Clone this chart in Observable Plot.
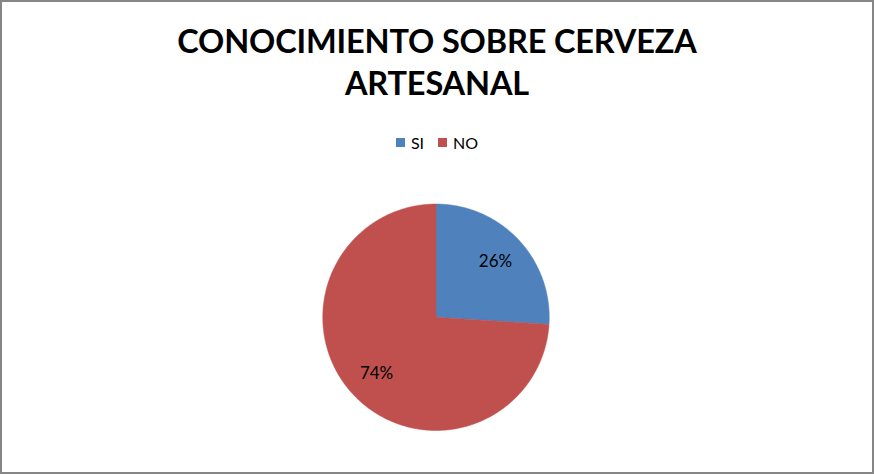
<!DOCTYPE html>
<html>
<head>
<meta charset="utf-8">
<script src="https://cdn.jsdelivr.net/npm/d3@7"></script>
<script src="https://cdn.jsdelivr.net/npm/@observablehq/plot@0.6"></script>
<style>
  html, body { margin: 0; padding: 0; background: #fff; }
  #frame { position: relative; width: 874px; height: 474px; box-sizing: border-box; border: 2px solid #868686; overflow: hidden; font-family: Lato, "Open Sans", sans-serif; }
  #title { position: absolute; left: 0; top: 18px; width: 870px; text-align: center; font-weight: bold; font-size: 32.5px; line-height: 42px; color: #000; letter-spacing: -0.15px; }
  #legend { position: absolute; left: 0; top: 131px; width: 870px; display: flex; justify-content: center; gap: 14px; font-size: 16px; color: #000; }
  #legend .item { display: flex; align-items: center; gap: 6px; }
  #legend .sw { width: 9px; height: 9px; display: inline-block; }
  #chart { position: absolute; left: -2px; top: -2px; }
</style>
</head>
<body>
<div id="frame">
  <div id="title">CONOCIMIENTO SOBRE CERVEZA<br>ARTESANAL</div>
  <div id="legend"></div>
  <div id="chart"></div>
</div>
<script>
const categories = ["SI", "NO"];
const values = [26, 74];
const colors = ["#4F81BD", "#C0504D"];
const labels = ["26%", "74%"];

// legend
const legend = document.getElementById("legend");
categories.forEach((c, i) => {
  const it = document.createElement("div");
  it.className = "item";
  it.innerHTML = `<span class="sw" style="background:${colors[i]}"></span><span>${c}</span>`;
  legend.appendChild(it);
});

const arcs = d3.pie().sort(null).value(d => d.value)(categories.map((c, i) => ({category: c, value: values[i], label: labels[i]})));

const points = [];
arcs.forEach(a => {
  points.push({category: a.data.category, x: 0, y: 0});
  const n = Math.max(2, Math.ceil((a.endAngle - a.startAngle) / 0.01));
  for (let k = 0; k <= n; k++) {
    const t = a.startAngle + (a.endAngle - a.startAngle) * k / n;
    points.push({category: a.data.category, x: Math.sin(t), y: Math.cos(t)});
  }
  points.push({category: a.data.category, x: 0, y: 0});
});

const labelR = 0.72;
const labelPts = arcs.map(a => {
  const m = (a.startAngle + a.endAngle) / 2;
  return {label: a.data.label, x: labelR * Math.sin(m), y: labelR * Math.cos(m)};
});

const cx = 436.5, cy = 317.5, r = 113.5;
const plot = Plot.plot({
  width: 874,
  height: 474,
  x: {domain: [-1, 1], range: [cx - r, cx + r], axis: null},
  y: {domain: [-1, 1], range: [cy + r, cy - r], axis: null},
  color: {domain: categories, range: colors},
  style: {fontFamily: "Lato, 'Open Sans', sans-serif", background: "transparent", overflow: "visible"},
  marks: [
    Plot.line(points, {x: "x", y: "y", z: "category", fill: "category", stroke: "category", strokeWidth: 0.5, curve: "linear"}),
    Plot.text(labelPts, {x: "x", y: "y", text: "label", fontSize: 17, fill: "#000"})
  ]
});
document.getElementById("chart").appendChild(plot);
</script>
</body>
</html>
